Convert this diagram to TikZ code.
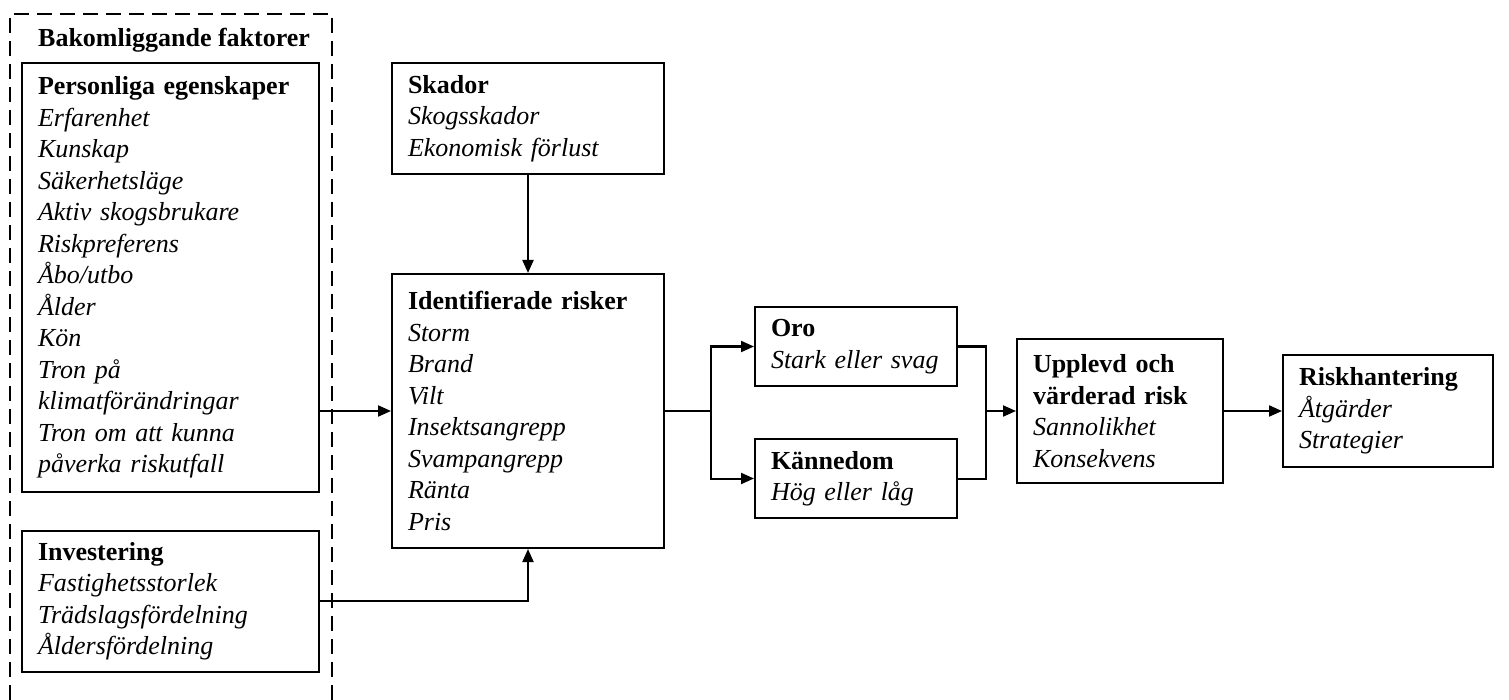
\documentclass[tikz,border=0pt]{standalone}
\usepackage{fontspec}
\setmainfont{Liberation Serif}
\usetikzlibrary{arrows.meta}
\begin{document}
\begin{tikzpicture}[x=1pt,y=-1pt,
  every node/.style={font=\fontsize{26}{31.5}\selectfont},
  box/.style={draw, line width=2pt, align=left, inner xsep=16pt, inner ysep=0pt, anchor=center},
  conn/.style={line width=2pt, line join=miter},
  arr/.style={conn, -{Triangle[length=13pt,width=11pt]}},
  frame/.style={line width=2pt, dash pattern=on 15pt off 8pt}
]
\useasboundingbox (0,0) rectangle (1509,700);
\fill[white] (0,0) rectangle (1509,700);
% dashed container
\draw[frame] (10,700) -- (10,14) -- (332,14) -- (332,700);
\node[anchor=base west, inner sep=0pt] (bak) at (38,47) {\textbf{Bakomliggande faktorer}};

\node[box, text width=265pt, minimum height=429pt] (pers) at (170.5,277.5)
 {\textbf{Personliga egenskaper}\\ \itshape Erfarenhet\\ Kunskap\\ Säkerhetsläge\\ Aktiv skogsbrukare\\ Riskpreferens\\ Åbo/utbo\\ Ålder\\ Kön\\ Tron på\\ klimatförändringar\\ Tron om att kunna\\ påverka riskutfall};
\node[box, text width=265pt, minimum height=141pt] (inv) at (170.5,601)
 {\textbf{Investering}\\ \itshape Fastighetsstorlek\\ Trädslagsfördelning\\ Åldersfördelning};
\node[box, text width=240pt, minimum height=111pt] (skad) at (528,118.5)
 {\textbf{Skador}\\ \itshape Skogsskador\\ Ekonomisk förlust};
\node[box, text width=240pt, minimum height=274pt] (ident) at (528,411)
 {\textbf{Identifierade risker}\\ \itshape Storm\\ Brand\\ Vilt\\ Insektsangrepp\\ Svampangrepp\\ Ränta\\ Pris};
\node[box, text width=170pt, minimum height=79pt] (oro) at (856,346.5)
 {\textbf{Oro}\\ \itshape Stark eller svag};
\node[box, text width=170pt, minimum height=79pt] (kann) at (856,478.5)
 {\textbf{Kännedom}\\ \itshape Hög eller låg};
\node[box, text width=174pt, minimum height=143pt] (upp) at (1120,411)
 {\textbf{Upplevd och}\\ \textbf{värderad risk}\\ \itshape Sannolikhet\\ Konsekvens};
\node[box, text width=178pt, minimum height=112pt] (risk) at (1388,411)
 {\textbf{Riskhantering}\\ \itshape Åtgärder\\ Strategier};

% connectors
\draw[arr] (skad) -- (ident);
\draw[arr] (pers.east |- ident.west) -- (ident.west);
\draw[arr] (inv.east) -| (ident.south);
\path (ident.east) ++(46,0) coordinate (split);
\draw[conn] (ident.east) -- (split);
\draw[arr] (split) |- (oro.west);
\draw[arr] (split) |- (kann.west);
\path (upp.west) ++(-30,0) coordinate (join);
\draw[conn] (oro.east) -| (join);
\draw[conn] (kann.east) -| (join);
\draw[arr] (join) -- (upp.west);
\draw[arr] (upp) -- (risk);
\end{tikzpicture}
\end{document}
